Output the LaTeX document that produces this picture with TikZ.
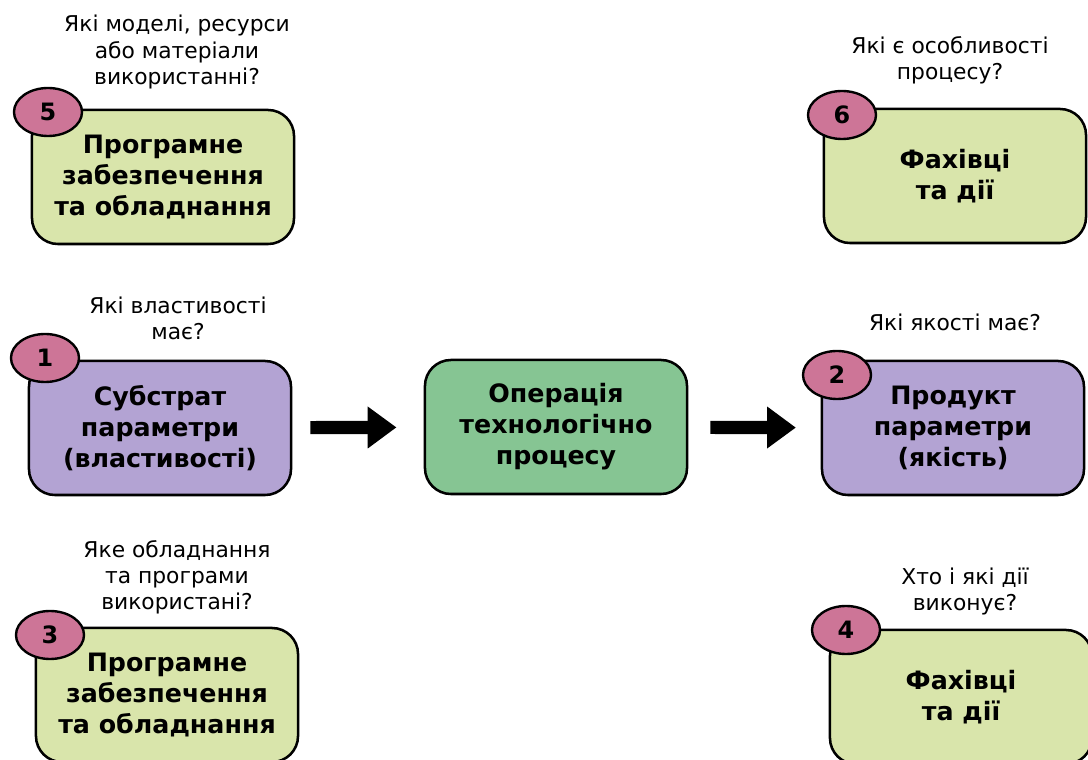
\documentclass[tikz,border=0pt]{standalone}
\usepackage{fontspec}
\setmainfont{DejaVu Sans}
\usetikzlibrary{shapes.geometric,arrows.meta}
\definecolor{boxgreen}{HTML}{D9E5AB}
\definecolor{boxlilac}{HTML}{B3A3D3}
\definecolor{opgreen}{HTML}{86C593}
\definecolor{numpink}{HTML}{CD7597}
\begin{document}
\begin{tikzpicture}[x=0.025cm,y=-0.025cm,
  stage/.style={draw, line width=1.8pt, rounded corners=0.65cm, minimum width=6.55cm, minimum height=3.35cm, align=center, font=\bfseries\fontsize{18}{22}\selectfont},
  num/.style={draw, ellipse, line width=1.7pt, fill=numpink, minimum width=1.7cm, minimum height=1.2cm, inner sep=0pt, font=\bfseries\fontsize{17}{17}\selectfont},
  quest/.style={align=center, font=\fontsize{15.5}{18.5}\selectfont},
  flow/.style={line width=0.33cm, -{Triangle[length=0.72cm,width=1cm]}}]
\useasboundingbox (0,0) rectangle (1088,760);
% boxes
\node[stage, fill=boxgreen] (soft1) at (163,177) {Програмне\\забезпечення\\та обладнання};
\node[stage, fill=boxgreen] (staff1) at (955,176) {Фахівці\\та дії};
\node[stage, fill=boxlilac] (subst) at (160,428) {Субстрат\\параметри\\(властивості)};
\node[stage, fill=opgreen] (oper) at (556,427) {Операція\\технологічно\\процесу};
\node[stage, fill=boxlilac] (prod) at (953,428) {Продукт\\параметри\\(якість)};
\node[stage, fill=boxgreen] (soft2) at (167,695) {Програмне\\забезпечення\\та обладнання};
\node[stage, fill=boxgreen] (staff2) at (961,697) {Фахівці\\та дії};
% numbers
\node[num] (n5) at (48,112) {5};
\node[num] (n6) at (842,115) {6};
\node[num] (n1) at (45,358) {1};
\node[num] (n2) at (837,375) {2};
\node[num] (n3) at (50,635) {3};
\node[num] (n4) at (846,630) {4};
% questions
\node[quest] (q5) at (177,52) {Які моделі, ресурси\\або матеріали\\використанні?};
\node[quest] (q6) at (950,60) {Які є особливості\\процесу?};
\node[quest] (q1) at (178,318) {Які властивості\\має?};
\node[quest] (q2) at (955,322) {Які якості має?};
\node[quest] (q3) at (177,577) {Яке обладнання\\та програми\\використані?};
\node[quest] (q4) at (965,591) {Хто і які дії\\виконує?};
% arrows
\draw[flow, shorten <=0.45cm, shorten >=0.68cm] (subst) -- (oper);
\draw[flow, shorten <=0.55cm, shorten >=0.62cm] (oper) -- (prod);
\end{tikzpicture}
\end{document}
